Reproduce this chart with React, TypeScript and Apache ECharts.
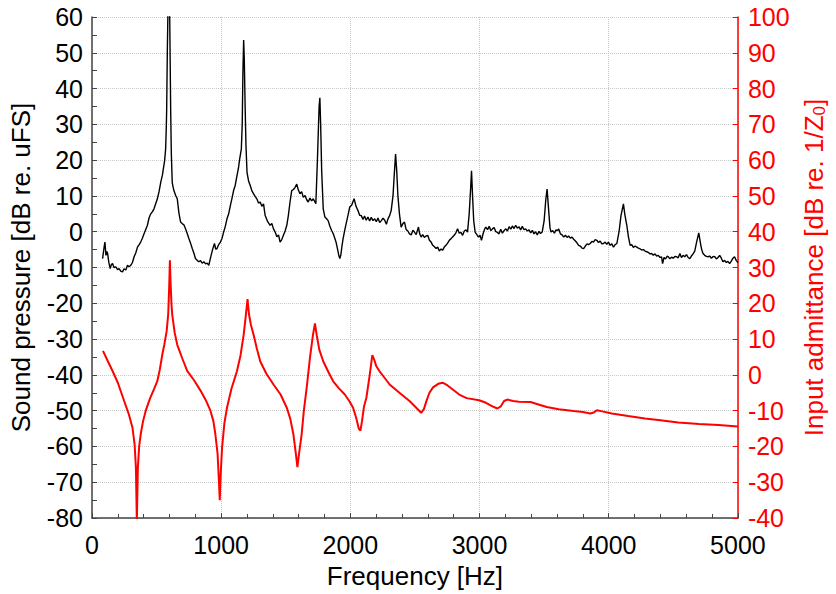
import React, { useEffect, useRef } from "react";
import * as echarts from "echarts";

// Measured sound pressure spectrum (frequency in Hz, level in dB re. uFS)
const spectrumFreq = [
  82, 95, 100, 108, 115, 121, 130, 141, 150, 159, 170, 185, 198, 210, 222, 236, 248, 262, 275, 288,
  300, 313, 326, 340, 352, 365, 377, 390, 403, 416, 429, 442, 455, 468, 480, 493, 506, 519, 532, 545,
  552, 562, 570, 575, 578, 583, 588, 601, 605, 609, 614, 621, 627, 634, 647, 660, 673, 686, 700, 712,
  724, 737, 750, 763, 776, 789, 801, 814, 827, 840, 853, 866, 879, 892, 904, 913, 922, 935, 948, 958,
  968, 981, 994, 1007, 1019, 1032, 1045, 1058, 1071, 1084, 1096, 1109, 1122, 1133, 1143, 1156, 1163, 1168, 1174, 1179,
  1186, 1192, 1200, 1212, 1225, 1238, 1251, 1264, 1276, 1289, 1302, 1315, 1328, 1340, 1360, 1379, 1392, 1405, 1418, 1431,
  1444, 1456, 1469, 1482, 1495, 1508, 1520, 1533, 1546, 1560, 1572, 1585, 1597, 1610, 1623, 1636, 1649, 1661, 1674, 1687,
  1700, 1713, 1733, 1745, 1758, 1764, 1770, 1778, 1790, 1803, 1816, 1828, 1841, 1854, 1867, 1880, 1890, 1900, 1910, 1918,
  1926, 1935, 1944, 1957, 1970, 1983, 1995, 2010, 2029, 2044, 2059, 2072, 2085, 2098, 2110, 2123, 2136, 2149, 2162, 2175,
  2188, 2201, 2214, 2227, 2240, 2253, 2266, 2279, 2291, 2304, 2316, 2330, 2340, 2350, 2359, 2368, 2380, 2393, 2406, 2419,
  2432, 2445, 2458, 2471, 2484, 2496, 2510, 2527, 2537, 2548, 2560, 2573, 2586, 2599, 2612, 2625, 2638, 2651, 2664, 2676,
  2689, 2702, 2714, 2727, 2740, 2753, 2766, 2778, 2791, 2804, 2817, 2830, 2843, 2856, 2869, 2882, 2895, 2907, 2920, 2931,
  2938, 2946, 2955, 2966, 2979, 2992, 3004, 3015, 3028, 3040, 3049, 3062, 3075, 3088, 3100, 3113, 3126, 3139, 3151, 3164,
  3177, 3190, 3203, 3216, 3229, 3242, 3254, 3267, 3280, 3293, 3306, 3318, 3331, 3344, 3357, 3370, 3383, 3396, 3409, 3421,
  3434, 3447, 3460, 3472, 3485, 3500, 3513, 3523, 3533, 3545, 3553, 3566, 3580, 3591, 3603, 3613, 3626, 3639, 3652, 3665,
  3678, 3690, 3703, 3716, 3729, 3742, 3754, 3767, 3780, 3793, 3806, 3819, 3832, 3844, 3857, 3870, 3882, 3895, 3908, 3921,
  3934, 3947, 3960, 3972, 3985, 3998, 4011, 4024, 4037, 4050, 4063, 4080, 4095, 4114, 4125, 4140, 4153, 4166, 4178, 4191,
  4204, 4217, 4230, 4243, 4256, 4269, 4281, 4294, 4307, 4320, 4332, 4345, 4358, 4371, 4384, 4397, 4409, 4417, 4428, 4440,
  4453, 4461, 4474, 4486, 4499, 4512, 4525, 4538, 4551, 4563, 4576, 4589, 4602, 4615, 4628, 4640, 4653, 4666, 4680, 4697,
  4712, 4720, 4730, 4743, 4756, 4769, 4782, 4795, 4808, 4821, 4834, 4846, 4859, 4872, 4884, 4897, 4910, 4923, 4936, 4949,
  4962, 4974, 4987, 5000,
];
const spectrumDb = [
  -7.5, -4, -2.9, -6.6, -5.5, -6.1, -8.5, -10.3, -9.2, -8.9, -10.0, -9.8, -10.6, -10.3, -11.0, -11.2, -10.4, -10.7, -9.4, -9.8,
  -9.4, -8.6, -7.0, -5.8, -4.3, -3.6, -2.9, -1.8, -0.6, 0.6, 1.8, 3.9, 5.0, 5.6, 6.4, 7.8, 9.2, 11.2, 13.8, 15.8,
  17.5, 19.8, 23.1, 29, 34, 50, 62, 62, 48, 34, 22, 13.8, 12.6, 11.5, 10.2, 9.2, 5.2, 2.7, 2.2, 1.9,
  0.8, -0.5, -1.9, -3.2, -4.7, -6.0, -7.5, -8.0, -8.4, -8.1, -8.8, -8.4, -9.0, -8.8, -9.4, -8.0, -6.6, -4.8, -3.3, -4.9,
  -4.7, -3.6, -2.9, -1.8, -0.1, 1.5, 3.6, 5.0, 7.3, 9.4, 11.5, 13.0, 15.6, 17.6, 20.3, 23.1, 30, 44, 53.6, 48,
  34, 24, 16.6, 14.2, 12.9, 11.4, 10.6, 9.8, 9.2, 8.0, 8.3, 7.1, 7.8, 4.6, 2.8, 1.8, 2.3, 0.8, -0.1, -1.4,
  -0.9, -2.9, -2.2, -1.0, 0.2, 1.8, 4.5, 8.3, 11.5, 11.8, 12.4, 13.3, 11.7, 10.6, 11.2, 9.6, 10.1, 9.0, 8.3, 9.4,
  8.6, 9.2, 7.8, 20, 35, 37.4, 30, 17, 6.4, 4.1, 3.6, 3.1, 1.6, 0.4, -0.5, -1.9, -3.0, -4.7, -6.5, -7.5,
  -6.6, -4.0, -1.9, 0.5, 2.7, 4.8, 6.9, 7.4, 9.2, 7.1, 5.9, 4.6, 4.5, 3.4, 4.4, 3.2, 4.1, 3.0, 4.0, 3.1,
  3.6, 2.8, 3.8, 2.6, 3.1, 3.8, 3.2, 2.1, 3.6, 4.5, 5.9, 10, 16, 21.7, 17, 10.1, 5, 1.3, 2.2, 2.7,
  0.6, 0.2, -0.6, -0.9, 0.4, -0.1, -0.8, 1.3, -0.6, -1.5, -0.8, -1.6, -1.2, -1.0, -2.4, -2.9, -3.8, -4.2, -4.7, -4.3,
  -5.4, -4.8, -5.2, -4.3, -3.8, -3.2, -2.4, -2.0, -1.5, -1.0, -0.3, 0.8, -0.4, -0.2, -1.0, 0.2, 0.5, -0.1, 5, 12,
  17.0, 10, 3, -0.1, -0.8, -1.5, -1.0, -2.4, -0.5, 0.8, 1.3, 0.6, 1.5, 0.3, 0.8, 1.2, 0.0, -0.2, -0.6, 0.7,
  -0.4, 0.3, 0.8, 0.2, 1.4, 0.7, 1.6, 0.9, 1.8, 1.0, 1.4, 0.5, 1.5, 0.6, 0.8, 0.2, 0.5, -0.3, 0.4, -0.6,
  0.0, -0.9, 0.1, -0.5, -0.1, 3, 9, 11.9, 7, 1.2, -0.1, 0.3, -0.4, 0.5, 0.3, 0.8, -0.6, -0.9, -1.5, -1.0,
  -1.6, -1.2, -1.8, -1.5, -2.1, -2.6, -3.1, -3.8, -4.0, -4.6, -4.7, -4.0, -3.4, -3.6, -3.3, -2.7, -2.9, -2.2, -2.4, -3.0,
  -2.6, -3.4, -3.3, -2.9, -3.5, -2.9, -3.8, -3.4, -4.3, -3.6, -3.3, 0, 4.5, 7.8, 4.8, 1.8, -1.5, -3.8, -3.6, -4.4,
  -4.0, -4.3, -4.6, -4.8, -5.1, -5.0, -5.4, -5.6, -5.8, -6.2, -6.1, -6.6, -6.2, -6.8, -6.6, -7.2, -7.0, -8.9, -7.2, -7.6,
  -6.8, -7.0, -7.6, -7.1, -7.4, -6.9, -7.0, -7.3, -6.1, -7.2, -6.6, -7.0, -6.4, -7.2, -7.5, -6.8, -6.2, -5.4, -3.0, -0.3,
  -3.6, -5.0, -6.1, -6.6, -6.9, -7.0, -6.8, -7.4, -6.9, -7.0, -7.6, -7.2, -6.6, -7.4, -8.4, -8.0, -8.6, -8.3, -8.9, -8.2,
  -7.4, -7.0, -8.0, -8.6,
];

// Computed input admittance (frequency in Hz, level in dB re. 1/Z0)
const admittanceFreq = [
  85, 120, 160, 200, 249, 285, 313, 330, 340, 347, 355, 365, 377, 395, 416, 450, 480, 506, 525, 544,
  560, 578, 590, 598, 603, 608, 615, 621, 640, 660, 700, 737, 790, 840, 880, 917, 940, 955, 972, 983,
  989, 996, 1007, 1025, 1045, 1080, 1122, 1150, 1174, 1192, 1204, 1215, 1230, 1251, 1275, 1302, 1350, 1405, 1460, 1508,
  1535, 1559, 1578, 1590, 1603, 1623, 1640, 1662, 1687, 1710, 1726, 1740, 1760, 1790, 1830, 1867, 1910, 1957, 1995, 2021,
  2045, 2065, 2078, 2090, 2105, 2124, 2150, 2170, 2185, 2200, 2226, 2260, 2304, 2380, 2458, 2510, 2548, 2570, 2590, 2612,
  2640, 2680, 2714, 2750, 2800, 2843, 2900, 2997, 3050, 3100, 3138, 3165, 3190, 3215, 3260, 3305, 3395, 3450, 3520, 3613,
  3729, 3800, 3857, 3885, 3908, 3950, 4024, 4150, 4281, 4400, 4538, 4700, 4850, 5000,
];
const admittanceDb = [
  6.7, 4.0, 1.0, -2.2, -7.3, -11.0, -14.7, -19.5, -26, -41, -26, -20, -16.6, -13.0, -10, -6.5, -4.0, -1.7, 1.5, 5.6,
  8.5, 12.2, 17, 25, 32, 26, 20, 16.8, 11.8, 8.4, 4.5, 1.1, -1.5, -4.4, -7.0, -10, -13, -16.6, -22, -30,
  -35, -28, -20.3, -13.5, -9.2, -3.8, 1.0, 5.5, 11.2, 17, 21.2, 17, 14, 11.2, 7.5, 3.8, 0.3, -2.7, -5.5, -9.2,
  -12.3, -16.6, -22, -25.8, -22, -16.6, -10, -3.6, 4.7, 11, 14.4, 11, 7.0, 3.8, 0.8, -1.8, -3.7, -5.5, -7.5, -9.2,
  -12, -15, -15.6, -13, -9.0, -6.4, 0, 5.5, 4.2, 2.5, 1.0, -0.6, -2.7, -5.0, -7.3, -9.2, -10.6, -9.5, -7.2, -5.0,
  -3.5, -2.5, -2.2, -2.9, -4.3, -5.5, -6.5, -7.1, -7.8, -8.8, -9.4, -8.8, -7.3, -6.9, -7.3, -7.5, -7.6, -8.2, -9.0, -9.6,
  -10.1, -10.4, -10.8, -10.5, -9.9, -10.2, -10.8, -11.5, -12.2, -12.7, -13.3, -13.7, -14.0, -14.4,
];

const FONT = "'Liberation Sans', Arial, sans-serif";
const RED = "#ff0000";
const TICK_FS = 25;
const TITLE_FS = 26;

export default function App() {
  const ref = useRef<HTMLDivElement>(null);

  useEffect(() => {
    if (!ref.current) return;
    const chart = echarts.init(ref.current, undefined, { renderer: "svg" });
    const gridLine = { show: true, lineStyle: { color: "#c8c8c8", type: "dotted" as const, width: 1 } };
    const plain = (v: number) => String(v);

    chart.setOption({
      animation: false,
      backgroundColor: "#ffffff",
      textStyle: { fontFamily: FONT },
      grid: { left: 91, right: 96, top: 17, bottom: 73, containLabel: false },
      xAxis: {
        type: "value",
        min: 0,
        max: 5000,
        interval: 1000,
        name: "Frequency [Hz]",
        nameLocation: "middle",
        nameGap: 45,
        nameTextStyle: { fontSize: TITLE_FS, color: "#000", fontFamily: FONT },
        axisLine: { show: true, onZero: false, lineStyle: { color: "#444", width: 1.5 } },
        axisTick: { show: true, inside: true, length: 5, lineStyle: { color: "#444" } },
        minorTick: { show: true, splitNumber: 5, length: 4, lineStyle: { color: "#444" } },
        axisLabel: { fontSize: TICK_FS, color: "#000", margin: 14, fontFamily: FONT, formatter: plain },
        splitLine: gridLine,
      },
      yAxis: [
        {
          type: "value",
          min: -80,
          max: 60,
          interval: 10,
          position: "left",
          name: "Sound pressure [dB re. uFS]",
          nameLocation: "middle",
          nameGap: 58,
          nameTextStyle: { fontSize: TITLE_FS, color: "#000", fontFamily: FONT },
          axisLine: { show: true, lineStyle: { color: "#444", width: 1.5 } },
          axisTick: { show: true, inside: true, length: 5, lineStyle: { color: "#444" } },
          minorTick: { show: true, splitNumber: 2, length: 5, lineStyle: { color: "#444" } },
          axisLabel: { fontSize: TICK_FS, color: "#000", margin: 9, fontFamily: FONT, formatter: plain },
          splitLine: gridLine,
        },
        {
          type: "value",
          min: -40,
          max: 100,
          interval: 10,
          position: "right",
          name: "Input admittance [dB re. 1/Z{sub|0}]",
          nameLocation: "middle",
          nameGap: 58,
          nameRotate: 90,
          nameTextStyle: {
            fontSize: TITLE_FS,
            color: RED,
            fontFamily: FONT,
            rich: {
              sub: { fontSize: 17, color: RED, fontFamily: FONT, padding: [12, 0, 0, 0] },
            },
          },
          axisLine: { show: true, lineStyle: { color: RED, width: 1.5 } },
          axisTick: { show: true, inside: true, length: 5, lineStyle: { color: RED } },
          axisLabel: { fontSize: TICK_FS, color: RED, margin: 10, fontFamily: FONT, formatter: plain },
          splitLine: { show: false },
        },
      ],
      series: [
        {
          name: "Sound pressure",
          type: "line",
          yAxisIndex: 0,
          showSymbol: false,
          symbol: "none",
          clip: true,
          lineStyle: { color: "#000", width: 1.4 },
          data: spectrumFreq.map((f, i) => [f, spectrumDb[i]]),
          z: 3,
        },
        {
          name: "Input admittance",
          type: "line",
          yAxisIndex: 1,
          showSymbol: false,
          symbol: "none",
          clip: true,
          lineStyle: { color: RED, width: 2 },
          data: admittanceFreq.map((f, i) => [f, admittanceDb[i]]),
          z: 2,
        },
      ],
    });

    return () => chart.dispose();
  }, []);

  return <div ref={ref} style={{ width: 836, height: 594, position: "absolute", left: 0, top: 0 }} />;
}
